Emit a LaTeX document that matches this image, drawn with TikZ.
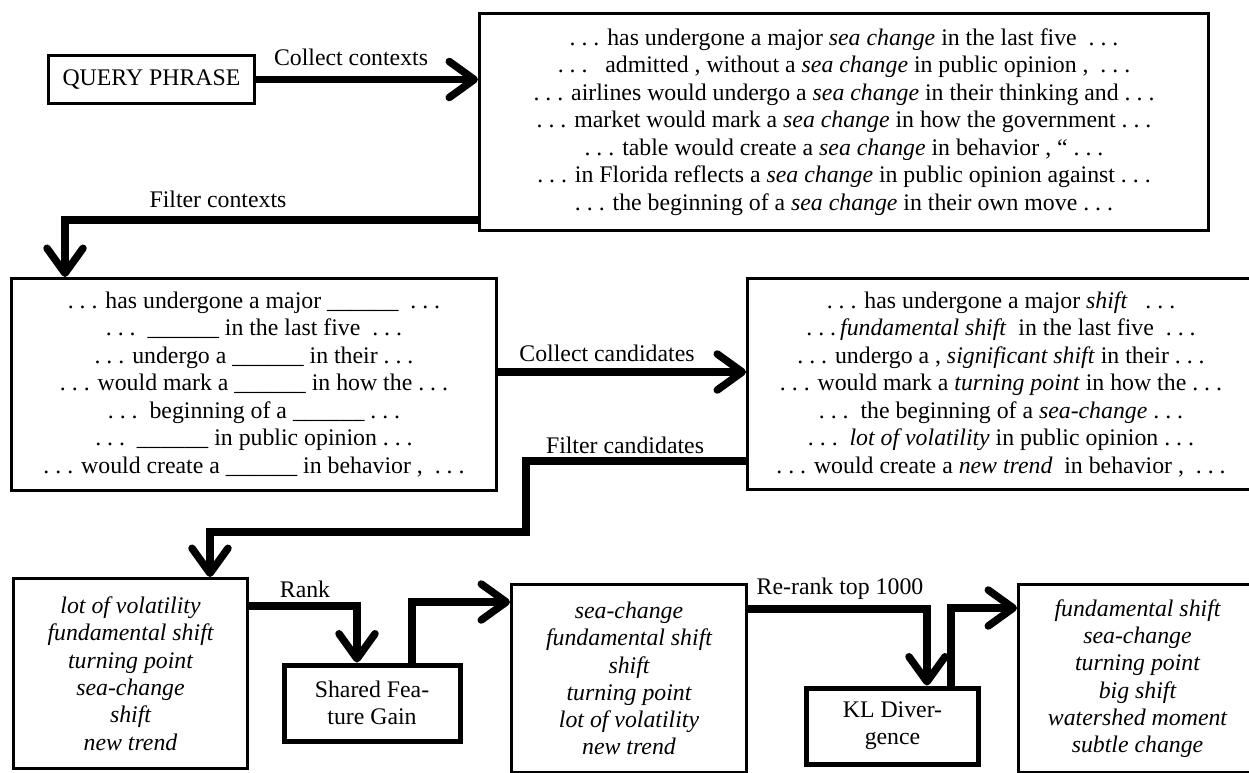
\documentclass[tikz,border=0pt]{standalone}
\usepackage{fontspec}
\setmainfont{Liberation Serif}
\usetikzlibrary{arrows.meta}
\newcommand{\dts}{.~.~.}
\newcommand{\blk}{\_\_\_\_\_\_}
\begin{document}
\begin{tikzpicture}[x=1pt,y=-1pt,
  box/.style={draw,line width=3pt,inner sep=0pt,align=center,
    font=\fontsize{23.8pt}{27.5pt}\selectfont},
  listbox/.style={draw,line width=3pt,inner sep=0pt,align=center,
    font=\fontsize{23.8pt}{27.3pt}\selectfont\itshape},
  opbox/.style={draw,line width=5pt,inner sep=0pt,align=center,
    font=\fontsize{23.8pt}{27pt}\selectfont},
  lbl/.style={inner sep=0pt,font=\fontsize{23.8pt}{24pt}\selectfont},
  conn/.style={line width=7.5pt,-{Straight Barb[length=25pt,width=36pt,round]}}]
\useasboundingbox (0,0) rectangle (1249,772);
\fill[white] (0,0) rectangle (1249,772);
\clip (0,0) rectangle (1249,772);

\node[box,minimum width=206pt,minimum height=48pt] (q) at (151.5,79.5) {QUERY PHRASE};

\node[box,minimum width=729pt,minimum height=217pt] (b1) at (844,122) {%
\dts{} has undergone a major \textit{sea change} in the last five\ \ \dts\\
\dts\ \ \ admitted , without a \textit{sea change} in public opinion ,\ \ \dts\\
\dts{} airlines would undergo a \textit{sea change} in their thinking and \dts\\
\dts{} market would mark a \textit{sea change} in how the government \dts\\
\dts{} table would create a \textit{sea change} in behavior , “ \dts\\
\dts{} in Florida reflects a \textit{sea change} in public opinion against \dts\\
\dts{} the beginning of a \textit{sea change} in their own move \dts};

\node[box,minimum width=485pt,minimum height=212pt] (b2) at (254,384.5) {%
\dts{} has undergone a major \blk\ \ \dts\\
\dts\ \ \blk{} in the last five\ \ \dts\\
\dts{} undergo a \blk{} in their \dts\\
\dts{} would mark a \blk{} in how the \dts\\
\dts\ \ beginning of a \blk{} \dts\\
\dts\ \ \blk{} in public opinion \dts\\
\dts{} would create a \blk{} in behavior ,\ \ \dts};

\node[box,minimum width=507pt,minimum height=211pt] (b3) at (1001,384) {%
\dts{} has undergone a major \textit{shift}\ \ \ \dts\\
\dts\,\textit{fundamental shift}\ \ in the last five\ \ \dts\\
\dts{} undergo a , \textit{significant shift} in their \dts\\
\dts{} would mark a \textit{turning point} in how the \dts\\
\dts\ \ the beginning of a \textit{sea-change} \dts\\
\dts\ \ \textit{lot of volatility} in public opinion \dts\\
\dts{} would create a \textit{new trend}\ \ in behavior ,\ \ \dts};

\node[listbox,minimum width=234pt,minimum height=190pt] (b4) at (130.5,673.5) {%
lot of volatility\\ fundamental shift\\ turning point\\ sea-change\\ shift\\ new trend};

\node[opbox,minimum width=176pt,minimum height=76pt] (sfg) at (372,703) {Shared Fea-\\ ture Gain};

\node[listbox,minimum width=235pt,minimum height=188pt] (b5) at (629,678.5) {%
sea-change\\ fundamental shift\\ shift\\ turning point\\ lot of volatility\\ new trend};

\node[opbox,minimum width=172pt,minimum height=76pt] (kl) at (892.5,726) {KL Diver-\\ gence};

\node[listbox,minimum width=238pt,minimum height=188pt] (b6) at (1137.5,678.5) {%
fundamental shift\\ sea-change\\ turning point\\ big shift\\ watershed moment\\ subtle change};

\node[lbl] (l1) at (351,57) {Collect contexts};
\node[lbl] (l2) at (218,199) {Filter contexts};
\node[lbl] (l3) at (607,353) {Collect candidates};
\node[lbl] (l4) at (625,445) {Filter candidates};
\node[lbl] (l5) at (305,589) {Rank};
\node[lbl] (l6) at (840,589) {Re-rank top 1000};

\draw[conn] (q.east) -- (q.east -| b1.west);
\draw[conn] (b1.west |- 0,220) -| (b2.north -| 65,0);
\draw[conn] (b2.east |- 0,372) -- (b3.west |- 0,372);
\draw[conn] (b3.west |- 0,461) -- (526,461) -- (526,532) -- (210,532) -- (b4.north -| 210,0);
\draw[conn] (b4.east |- 0,606) -| (sfg.north -| 357,0);
\draw[conn] (sfg.north -| 412,0) |- (b5.west |- 0,602);
\draw[conn] (b5.east |- 0,609) -| (kl.north -| 927,0);
\draw[conn] (kl.north -| 951,0) |- (b6.west |- 0,608);
\end{tikzpicture}
\end{document}
